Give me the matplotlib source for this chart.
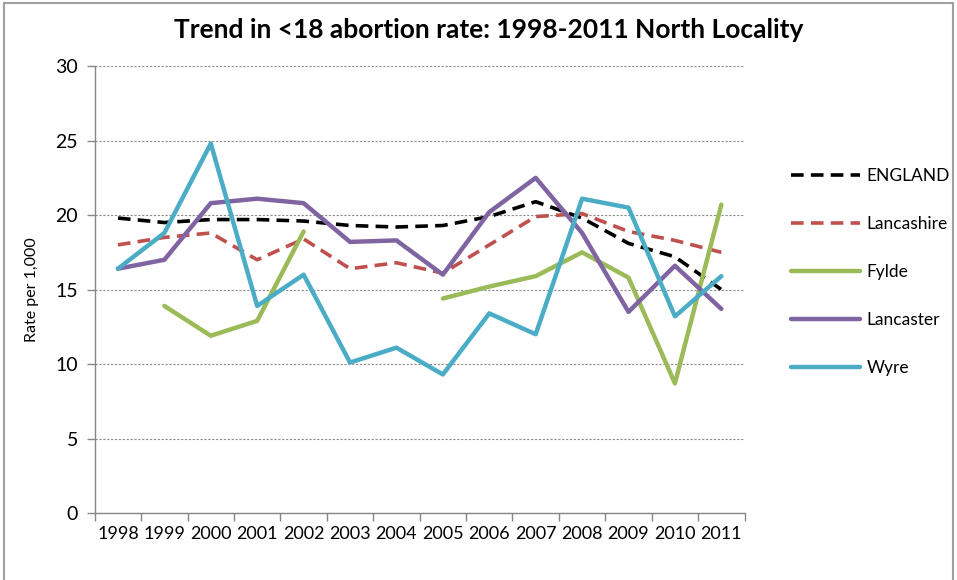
import numpy as np
import matplotlib
matplotlib.use("Agg")
import matplotlib.pyplot as plt
from matplotlib.patches import Rectangle

plt.rcParams['font.family'] = ['Lato', 'DejaVu Sans']

years = ['1998', '1999', '2000', '2001', '2002', '2003', '2004',
         '2005', '2006', '2007', '2008', '2009', '2010', '2011']
england = [19.8, 19.5, 19.7, 19.7, 19.6, 19.3, 19.2, 19.3, 19.9, 20.9, 19.8, 18.1, 17.2, 15.0]
lancashire = [18.0, 18.5, 18.8, 17.0, 18.4, 16.4, 16.8, 16.1, 18.0, 19.9, 20.1, 18.9, 18.3, 17.5]
fylde = [np.nan, 13.9, 11.9, 12.9, 18.9, np.nan, np.nan, 14.4, 15.2, 15.9, 17.5, 15.8, 8.7, 20.7]
lancaster = [16.4, 17.0, 20.8, 21.1, 20.8, 18.2, 18.3, 16.0, 20.2, 22.5, 18.8, 13.5, 16.6, 13.7]
wyre = [16.4, 18.8, 24.8, 13.9, 16.0, 10.1, 11.1, 9.3, 13.4, 12.0, 21.1, 20.5, 13.2, 15.9]

series = [
    ('ENGLAND', england, '#000000', (0, (3.5, 2.0)), 2.6),
    ('Lancashire', lancashire, '#C0504D', (0, (3.5, 2.0)), 2.6),
    ('Fylde', fylde, '#9BBB59', '-', 3.2),
    ('Lancaster', lancaster, '#8064A2', '-', 3.2),
    ('Wyre', wyre, '#4BACC6', '-', 3.2),
]

fig = plt.figure(figsize=(9.57, 5.8), dpi=100)
ax = fig.add_axes([0.099, 0.1155, 0.679, 0.7705])

x = np.arange(len(years))
handles = []
for name, vals, col, ls, lw in series:
    ln, = ax.plot(x, vals, color=col, linestyle=ls, linewidth=lw,
                  solid_capstyle='round', dash_capstyle='butt', label=name)
    handles.append(ln)

ax.set_xlim(-0.5, len(years) - 0.5)
ax.set_ylim(0, 30)
ax.set_yticks(np.arange(0, 31, 5))
ax.yaxis.grid(True, color='#8c8c8c', linestyle=(0, (2, 1.5)), linewidth=0.8)
ax.set_axisbelow(True)

ax.set_xticks(np.arange(-0.5, len(years), 1.0))
ax.set_xticklabels([])
ax.set_xticks(x, minor=True)
ax.set_xticklabels(years, minor=True)
ax.tick_params(axis='x', which='major', length=6, color='#868686', width=1)
ax.tick_params(axis='x', which='minor', length=0, labelsize=13, pad=9)
ax.tick_params(axis='y', length=6, color='#868686', width=1, labelsize=14, pad=6)

for s in ['top', 'right']:
    ax.spines[s].set_visible(False)
for s in ['left', 'bottom']:
    ax.spines[s].set_color('#868686')
    ax.spines[s].set_linewidth(1.0)

ax.set_ylabel('Rate per 1,000', fontsize=11.5, labelpad=12)
fig.text(0.511, 0.949, 'Trend in <18 abortion rate: 1998-2011 North Locality',
         ha='center', va='center', fontsize=19, fontweight='bold')

fig.legend(handles=handles, loc='upper left', bbox_to_anchor=(0.81, 0.738),
           frameon=False, fontsize=12.5, handlelength=4.0, handletextpad=0.35,
           labelspacing=1.85)

fig.patches.append(Rectangle((4 / 957, -0.01), 949 / 957, 1 - 3 / 580 + 0.01,
                             transform=fig.transFigure, fill=False,
                             edgecolor='#a0a0a0', linewidth=1.5))

fig.savefig('out.png', dpi=100)
